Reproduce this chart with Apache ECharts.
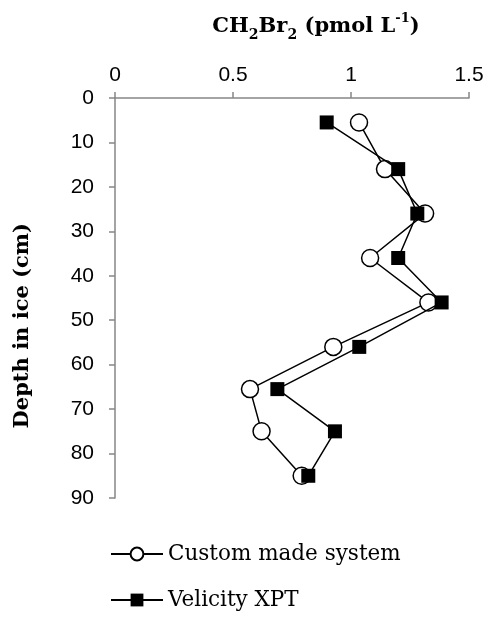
<!DOCTYPE html>
<html>
<head>
<meta charset="utf-8">
<script src="https://cdn.jsdelivr.net/npm/echarts@6/dist/echarts.min.js"></script>
<style>html,body{margin:0;padding:0;background:#fff;}#c{width:490px;height:619px;}</style>
</head>
<body>
<div id="c"></div>
<script>
var depths = [5.5, 16, 26, 36, 46, 56, 65.5, 75, 85];
var customMade = [1.034, 1.144, 1.314, 1.081, 1.328, 0.925, 0.572, 0.621, 0.791];
var velicity = [0.897, 1.200, 1.281, 1.200, 1.384, 1.035, 0.688, 0.932, 0.819];
var seriesNames = ['Custom made system', 'Velicity XPT'];

function pairs(xs) { return xs.map(function (v, i) { return [v, depths[i]]; }); }

var chart = echarts.init(document.getElementById('c'));
var serif = 'DejaVu Serif';
var sans = '"Liberation Sans", Arial, sans-serif';
chart.setOption({
  animation: false,
  backgroundColor: '#fff',
  title: {
    text: '{b|CH}{s|2}{b|Br}{s|2}{b| (pmol L}{p|-1}{b|)}',
    left: 311, top: 7, textAlign: 'center',
    textStyle: {
      rich: {
        b: { fontFamily: serif, fontWeight: 'bold', fontSize: 21, color: '#000', lineHeight: 30 },
        s: { fontFamily: serif, fontWeight: 'bold', fontSize: 14, color: '#000', lineHeight: 14, verticalAlign: 'bottom' },
        p: { fontFamily: serif, fontWeight: 'bold', fontSize: 13, color: '#000', lineHeight: 14, verticalAlign: 'top' }
      }
    }
  },
  graphic: [{
    type: 'text', left: 12, top: 223, rotation: Math.PI / 2,
    style: { text: 'Depth in ice (cm)', fontFamily: serif, fontWeight: 'bold', fontSize: 21, fill: '#000' }
  }],
  grid: { left: 115, top: 98, right: 21, bottom: 121 },
  legend: {
    orient: 'vertical', left: 105, top: 538,
    itemWidth: 52, itemHeight: 16, itemGap: 24,
    textStyle: { fontFamily: serif, fontSize: 21.5, color: '#000' },
    data: seriesNames
  },
  xAxis: {
    type: 'value', position: 'top', min: 0, max: 1.5, interval: 0.5,
    axisLine: { lineStyle: { color: '#868686', width: 1.5 } },
    axisTick: { show: true, length: 6, lineStyle: { color: '#868686', width: 1.5 } },
    axisLabel: { fontFamily: sans, fontSize: 21, color: '#000', margin: 12 },
    splitLine: { show: false }
  },
  yAxis: {
    type: 'value', inverse: true, min: 0, max: 90, interval: 10,
    axisLine: { show: true, lineStyle: { color: '#868686', width: 1.5 } },
    axisTick: { show: true, length: 6, lineStyle: { color: '#868686', width: 1.5 } },
    axisLabel: { fontFamily: sans, fontSize: 21, color: '#000', margin: 21 },
    splitLine: { show: false }
  },
  series: [{
    name: seriesNames[0], type: 'line', data: pairs(customMade),
    symbol: 'circle', symbolSize: 17,
    lineStyle: { color: '#000', width: 1.5 },
    itemStyle: { color: '#fff', borderColor: '#000', borderWidth: 1.5 },
    z: 3
  }, {
    name: seriesNames[1], type: 'line', data: pairs(velicity),
    symbol: 'rect', symbolSize: 14,
    lineStyle: { color: '#000', width: 1.5 },
    itemStyle: { color: '#000', borderColor: '#000', borderWidth: 0 },
    z: 4
  }]
});
</script>
</body>
</html>
